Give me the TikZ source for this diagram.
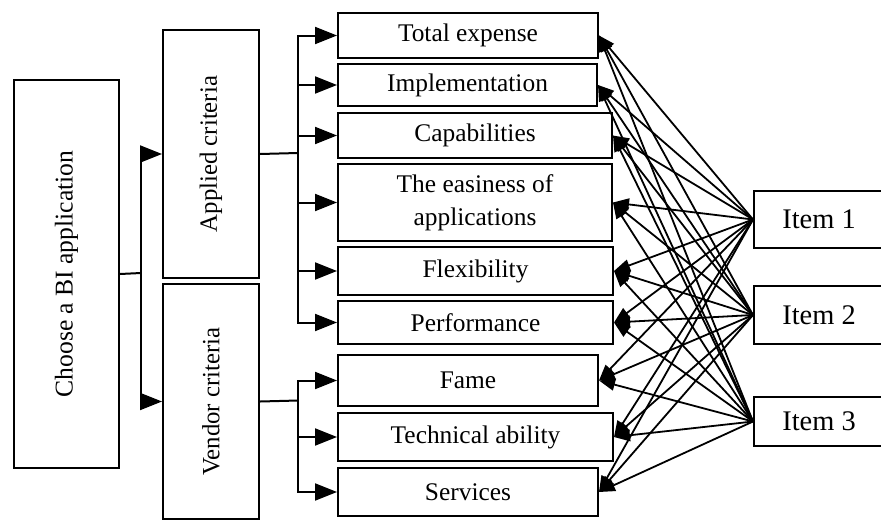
\documentclass[tikz,border=0pt]{standalone}
\usepackage{fontspec}
\setmainfont{Liberation Serif}
\usepackage{graphicx}
\usetikzlibrary{arrows.meta, positioning}

\begin{document}
\begin{tikzpicture}[x=0.5pt, y=-0.5pt,
        box/.style = {draw, line width=1pt, inner sep=0pt, anchor=north west,
            align=center, font=\fontsize{12.7}{16.5}\selectfont},
        item/.style = {box, font=\fontsize{14.2}{16}\selectfont},
        tree/.style = {line width=1pt, -{Triangle[length=11pt, width=8.5pt]}},
        link/.style = {line width=0.9pt, -{Triangle[length=8pt, width=6pt]}}]
        \useasboundingbox (0,0) rectangle (881,520);

        \node (choose) [box, minimum width=52.5pt, minimum height=194pt] at (13,79)
            {\rotatebox{90}{\fontsize{12.8}{15}\selectfont Choose a BI application}};
        \node (applied) [box, minimum width=48pt, minimum height=124pt] at (162,29)
            {\rotatebox{90}{\fontsize{12.4}{15}\selectfont Applied criteria}};
        \node (vendor) [box, minimum width=48pt, minimum height=117.5pt] at (162,283)
            {\rotatebox{90}{\fontsize{12.4}{15}\selectfont Vendor criteria}};

        \node (tot) [box, minimum width=130pt, minimum height=22.5pt] at (337,12) {Total expense};
        \node (imp) [box, minimum width=129.5pt, minimum height=21pt] at (337,63) {Implementation};
        \node (cap) [box, minimum width=137pt, minimum height=22.5pt] at (337,112) {Capabilities};
        \node (eas) [box, minimum width=137pt, minimum height=38.5pt] at (337,163) {The easiness of\\applications};
        \node (flx) [box, minimum width=137.5pt, minimum height=24pt] at (337,246) {Flexibility};
        \node (prf) [box, minimum width=137.5pt, minimum height=21.5pt] at (337,300) {Performance};
        \node (fam) [box, minimum width=130pt, minimum height=25.5pt] at (337,354) {Fame};
        \node (tec) [box, minimum width=137.5pt, minimum height=24pt] at (337,412) {Technical ability};
        \node (srv) [box, minimum width=130pt, minimum height=24pt] at (337,467) {Services};

        \node (it1) [item, minimum width=65pt, minimum height=28.5pt] at (753,190) {Item 1};
        \node (it2) [item, minimum width=65pt, minimum height=29pt] at (753,285) {Item 2};
        \node (it3) [item, minimum width=65pt, minimum height=24.5pt] at (753,396) {Item 3};

        \coordinate (cbus) at (141,273);
        \coordinate (abus) at (298,153);
        \coordinate (vbus) at (298,400.5);

        \draw [line width=1pt] (choose.east) -- (cbus);
        \draw [tree] (cbus) |- (applied.west);
        \draw [tree] (cbus) |- (vendor.west);

        \draw [line width=1pt] (applied.east) -- (abus);
        \foreach \c in {tot, imp, cap, eas, flx, prf}
            \draw [tree] (abus) |- (\c.west);
        \draw [line width=1pt] (vendor.east) -- (vbus);
        \foreach \c in {fam, tec, srv}
            \draw [tree] (vbus) |- (\c.west);

        \foreach \i in {it1, it2, it3}
            \foreach \c in {tot, imp, cap, eas, flx, prf, fam, tec, srv}
                \draw [link] (\i.west) -- (\c.east);
    \end{tikzpicture}
\end{document}
